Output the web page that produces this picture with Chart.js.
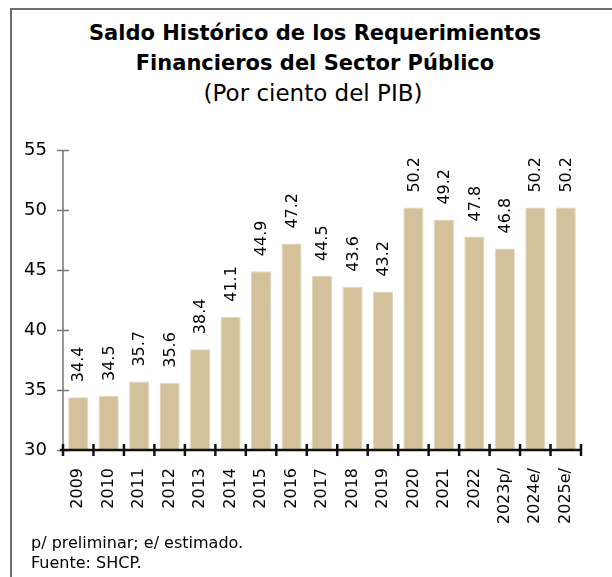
<!DOCTYPE html>
<html lang="es">
<head>
<meta charset="UTF-8">
<script src="https://cdn.jsdelivr.net/npm/chart.js"></script>
<title>Saldo Histórico de los RFSP</title>
<style>
    body { margin: 0; background: #fff; }
    .wrap { position: relative; width: 612px; height: 577px; overflow: hidden; font-family: "DejaVu Sans", sans-serif; color: #000; }
    .frame { position: absolute; left: 10px; top: 8px; width: 620px; height: 600px; border-left: 2px solid #6e6e6e; border-top: 2px solid #6e6e6e; }
    .title { position: absolute; left: 9px; width: 612px; top: 18px; text-align: center; font-size: 21px; line-height: 30px; font-weight: bold; }
    .sub { position: absolute; left: 7px; width: 612px; top: 78px; text-align: center; font-size: 23px; line-height: 30px; }
    .foot { position: absolute; left: 31px; top: 533px; font-size: 16px; line-height: 20px; }
    canvas { position: absolute; left: 0; top: 0; }
</style>
</head>
<body>
<div class="wrap">
    <div class="frame"></div>
    <div class="title">Saldo Histórico de los Requerimientos<br>Financieros del Sector Público</div>
    <div class="sub">(Por ciento del PIB)</div>
    <canvas id="chart" width="612" height="577"></canvas>
    <div class="foot">p/ preliminar; e/ estimado.<br>Fuente: SHCP.</div>
</div>

<script>
    // datos
    const years = ['2009','2010','2011','2012','2013','2014','2015','2016','2017','2018','2019','2020','2021','2022','2023p/','2024e/','2025e/'];
    const saldo = [34.4, 34.5, 35.7, 35.6, 38.4, 41.1, 44.9, 47.2, 44.5, 43.6, 43.2, 50.2, 49.2, 47.8, 46.8, 50.2, 50.2];
    const yTicks = [30, 35, 40, 45, 50, 55];

    const font = '"DejaVu Sans", sans-serif';

    // ejes con marcas que cruzan la linea + etiquetas de datos verticales
    const axesPlugin = {
        id: 'axes',
        afterDatasetsDraw(chart) {
            const ctx = chart.ctx;
            const x = chart.scales.x, y = chart.scales.y;
            const area = chart.chartArea;
            ctx.save();
            // eje y
            ctx.strokeStyle = '#777';
            ctx.lineWidth = 1.5;
            ctx.beginPath();
            ctx.moveTo(area.left, y.getPixelForValue(55));
            ctx.lineTo(area.left, area.bottom);
            yTicks.forEach(v => {
                const py = Math.round(y.getPixelForValue(v)) + 0.5;
                ctx.moveTo(area.left - 6, py);
                ctx.lineTo(area.left + 6, py);
            });
            ctx.stroke();
            // eje x
            ctx.strokeStyle = '#111';
            ctx.lineWidth = 2.5;
            ctx.beginPath();
            ctx.moveTo(area.left - 3, area.bottom);
            ctx.lineTo(area.right, area.bottom);
            const step = (x.getPixelForValue(1) - x.getPixelForValue(0));
            for (let i = 0; i <= years.length; i++) {
                const px = x.getPixelForValue(0) + (i - 0.5) * step;
                ctx.moveTo(px, area.bottom - 6);
                ctx.lineTo(px, area.bottom + 6);
            }
            ctx.stroke();
            // etiquetas
            ctx.fillStyle = '#000';
            ctx.font = '16px ' + font;
            ctx.textAlign = 'left';
            ctx.textBaseline = 'middle';
            chart.getDatasetMeta(0).data.forEach((bar, i) => {
                ctx.save();
                ctx.translate(bar.x, bar.y - 15);
                ctx.rotate(-Math.PI / 2);
                ctx.fillText(saldo[i].toFixed(1), 0, 1);
                ctx.restore();
            });
            ctx.restore();
        }
    };

    new Chart(document.getElementById('chart'), {
        type: 'bar',
        data: {
            labels: years,
            datasets: [{
                data: saldo,
                backgroundColor: '#d4c09a',
                borderColor: '#e2d5bb',
                borderWidth: 1,
                barPercentage: 0.66,
                categoryPercentage: 1
            }]
        },
        options: {
            responsive: false,
            animation: false,
            layout: { padding: { left: 13, right: 31, top: 150, bottom: 27 } },
            plugins: { legend: { display: false }, tooltip: { enabled: false } },
            scales: {
                x: {
                    grid: { display: false },
                    border: { display: false },
                    ticks: {
                        color: '#000',
                        font: { family: font, size: 16 },
                        minRotation: 90,
                        maxRotation: 90,
                        autoSkip: false,
                        padding: 10
                    },
                    afterFit(s) { s.height = 100; }
                },
                y: {
                    min: 30,
                    max: 55,
                    afterBuildTicks(s) { s.ticks = yTicks.map(v => ({ value: v })); },
                    grid: { display: false },
                    border: { display: false },
                    ticks: {
                        color: '#000',
                        font: { family: font, size: 18 },
                        padding: 8
                    },
                    afterFit(s) { s.width = 50; }
                }
            }
        },
        plugins: [axesPlugin]
    });
</script>
</body>
</html>
